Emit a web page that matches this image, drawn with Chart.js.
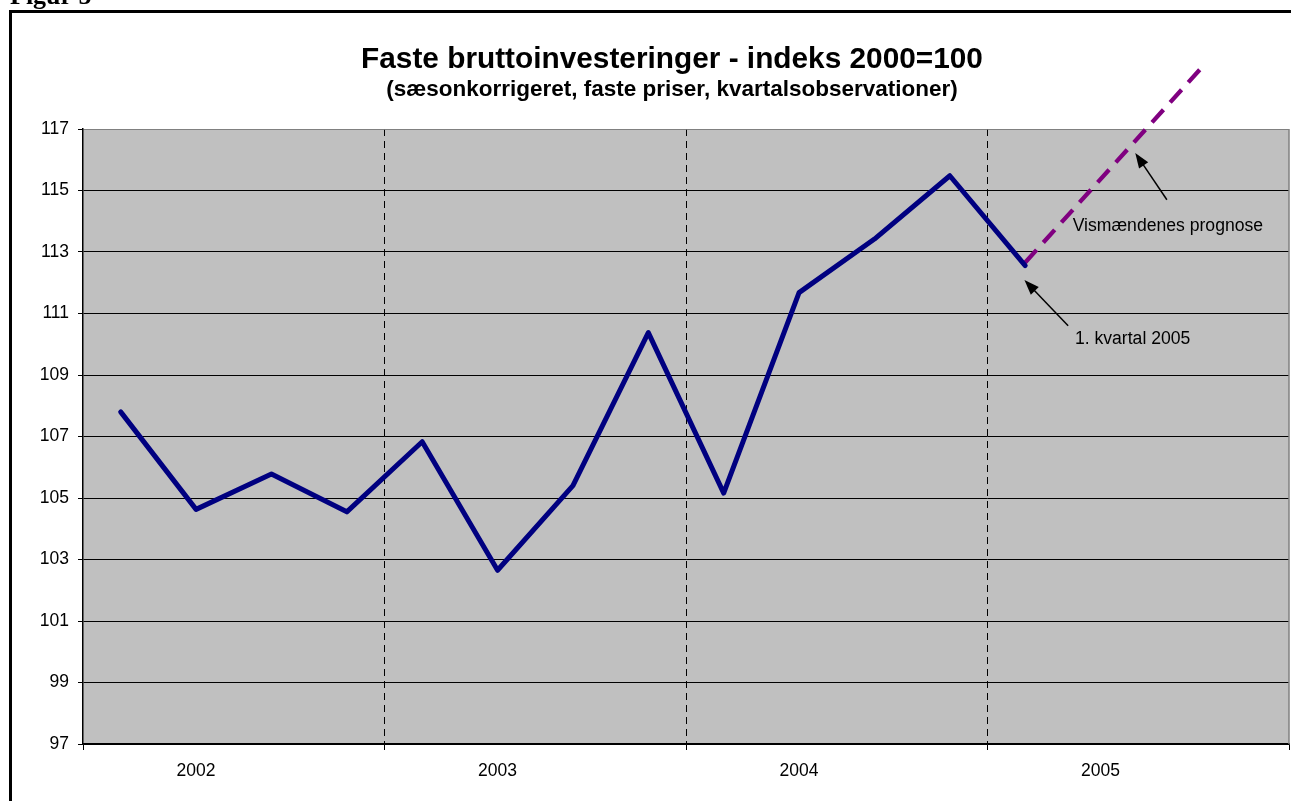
<!DOCTYPE html>
<html>
<head>
<meta charset="utf-8">
<script src="https://cdn.jsdelivr.net/npm/chart.js@4.4.0/dist/chart.umd.min.js"></script>
<style>
  html, body { margin: 0; padding: 0; background: #fff; }
  #wrap { width: 1291px; height: 801px; position: relative; }
</style>
</head>
<body>
<div id="wrap"><canvas id="c" width="1291" height="801"></canvas></div>
<script>
// ---- data ----
const years = ["2002", "2003", "2004", "2005"];
// quarterly index values, 2002K1 .. 2005K1
const actual = [107.8, 104.63, 105.78, 104.55, 106.83, 102.65, 105.4, 110.38, 105.16, 111.68, 113.42, 115.48, 112.56];
// forecast line (quarter index, value) — runs past the top of the plot
const forecastQ = [12, 14.39];
const forecastV = [112.66, 119.13];
const yTicks = [97, 99, 101, 103, 105, 107, 109, 111, 113, 115, 117];

// annotation texts with arrows, placed in data space (quarter index, value)
const notes = [
  { text: "Vismændenes prognose", at: [12.63, 113.68], tail: [13.88, 114.70], head: [13.46, 116.22] },
  { text: "1. kvartal 2005", at: [12.66, 110.02], tail: [12.57, 110.60], head: [11.99, 112.09] },
];

const FONT = "Arial, 'Liberation Sans', sans-serif";
const bounds = years.map((_, i) => i * 4 - 0.5).concat([years.length * 4 - 0.5]);
const labelPos = years.map((_, i) => i * 4 + 1);

function arrow(ctx, x1, y1, x2, y2) {
  const ang = Math.atan2(y2 - y1, x2 - x1), L = 15, W = 5.5;
  ctx.beginPath();
  ctx.moveTo(x1, y1);
  ctx.lineTo(x2 - Math.cos(ang) * L * 0.8, y2 - Math.sin(ang) * L * 0.8);
  ctx.stroke();
  ctx.beginPath();
  ctx.moveTo(x2, y2);
  ctx.lineTo(x2 - Math.cos(ang) * L - Math.sin(ang) * W, y2 - Math.sin(ang) * L + Math.cos(ang) * W);
  ctx.lineTo(x2 - Math.cos(ang) * L + Math.sin(ang) * W, y2 - Math.sin(ang) * L - Math.cos(ang) * W);
  ctx.closePath();
  ctx.fill();
}

const deco = {
  id: "deco",
  beforeDraw(chart) {
    const { ctx, chartArea: a } = chart;
    ctx.save();
    ctx.fillStyle = "#fff";
    ctx.fillRect(0, 0, chart.width, chart.height);
    ctx.fillStyle = "#c0c0c0";
    ctx.fillRect(a.left, a.top, a.right - a.left, a.bottom - a.top);
    ctx.restore();
  },
  beforeDatasetsDraw(chart) {
    const { ctx, chartArea: a } = chart;
    ctx.save();
    ctx.strokeStyle = "#808080";
    ctx.lineWidth = 1.5;
    ctx.beginPath();
    ctx.moveTo(a.right, a.top);
    ctx.lineTo(a.right, a.bottom);
    ctx.stroke();
    ctx.restore();
  },
  afterDraw(chart) {
    const { ctx } = chart;
    const xs = chart.scales.x, ys = chart.scales.y;
    ctx.save();
    // outer frame
    ctx.strokeStyle = "#000";
    ctx.lineWidth = 3;
    ctx.beginPath();
    ctx.moveTo(10.5, chart.height + 5);
    ctx.lineTo(10.5, 11.5);
    ctx.lineTo(chart.width + 5, 11.5);
    ctx.stroke();
    // figure caption cut at top edge
    ctx.fillStyle = "#000";
    ctx.textAlign = "left";
    ctx.textBaseline = "alphabetic";
    ctx.font = "bold 26px 'Liberation Serif', 'Times New Roman', serif";
    ctx.fillText("Figur 5", 10, 4);
    // titles
    ctx.textAlign = "center";
    ctx.font = "bold 29.8px " + FONT;
    ctx.fillText("Faste bruttoinvesteringer - indeks 2000=100", 672, 68);
    ctx.font = "bold 22.5px " + FONT;
    ctx.fillText("(sæsonkorrigeret, faste priser, kvartalsobservationer)", 672, 96);
    // annotations
    ctx.textAlign = "left";
    ctx.font = "17.6px " + FONT;
    ctx.strokeStyle = "#000";
    ctx.lineWidth = 1.5;
    notes.forEach((n) => {
      ctx.fillText(n.text, xs.getPixelForValue(n.at[0]), ys.getPixelForValue(n.at[1]));
      arrow(ctx, xs.getPixelForValue(n.tail[0]), ys.getPixelForValue(n.tail[1]),
        xs.getPixelForValue(n.head[0]), ys.getPixelForValue(n.head[1]));
    });
    ctx.restore();
  },
};

new Chart(document.getElementById("c"), {
  type: "line",
  data: {
    datasets: [
      {
        label: "Faste bruttoinvesteringer",
        data: actual.map((v, i) => ({ x: i, y: v })),
        borderColor: "#000080",
        borderWidth: 5,
        borderJoinStyle: "round",
        borderCapStyle: "round",
        pointRadius: 0,
        tension: 0,
      },
      {
        label: "Vismændenes prognose",
        data: forecastQ.map((q, i) => ({ x: q, y: forecastV[i] })),
        borderColor: "#800080",
        borderWidth: 4.3,
        borderDash: [17, 10],
        pointRadius: 0,
        clip: false,
        tension: 0,
      },
    ],
  },
  options: {
    responsive: false,
    animation: false,
    events: [],
    layout: { padding: { top: 129, right: 2, left: 0, bottom: 0 } },
    plugins: { legend: { display: false }, tooltip: { enabled: false }, title: { display: false } },
    scales: {
      x: {
        type: "linear",
        min: -0.5,
        max: years.length * 4 - 0.5,
        afterBuildTicks: (s) => {
          s.ticks = bounds.concat(labelPos).sort((a, b) => a - b).map((v) => ({ value: v }));
        },
        afterFit: (s) => { s.height = 57; s.paddingLeft = 0; s.paddingRight = 0; },
        ticks: {
          autoSkip: false,
          maxRotation: 0,
          color: "#000",
          padding: 11,
          font: { family: FONT, size: 17.5 },
          callback: (v) => { const k = labelPos.indexOf(v); return k >= 0 ? years[k] : ""; },
        },
        grid: {
          color: (c) => (c.tick && bounds.indexOf(c.tick.value) > 0 && bounds.indexOf(c.tick.value) < bounds.length - 1 ? "#000" : "rgba(0,0,0,0)"),
          tickColor: (c) => (c.tick && bounds.indexOf(c.tick.value) >= 0 ? "#000" : "rgba(0,0,0,0)"),
          lineWidth: 1,
          tickLength: 6,
        },
        border: { display: true, color: "#000", width: 1.5, dash: [7, 5] },
      },
      y: {
        min: 97,
        max: 117,
        afterBuildTicks: (s) => { s.ticks = yTicks.map((v) => ({ value: v })); },
        afterFit: (s) => { s.width = 83; s.paddingTop = 0; s.paddingBottom = 0; },
        ticks: { color: "#000", padding: 9, font: { family: FONT, size: 17.5 } },
        grid: {
          color: (c) => (c.tick && c.tick.value === 117 ? "#808080" : "#000"),
          tickColor: "#000",
          lineWidth: 1,
          tickLength: 5,
        },
        border: { display: true, color: "#000", width: 1.5 },
      },
    },
  },
  plugins: [deco],
});
</script>
</body>
</html>
